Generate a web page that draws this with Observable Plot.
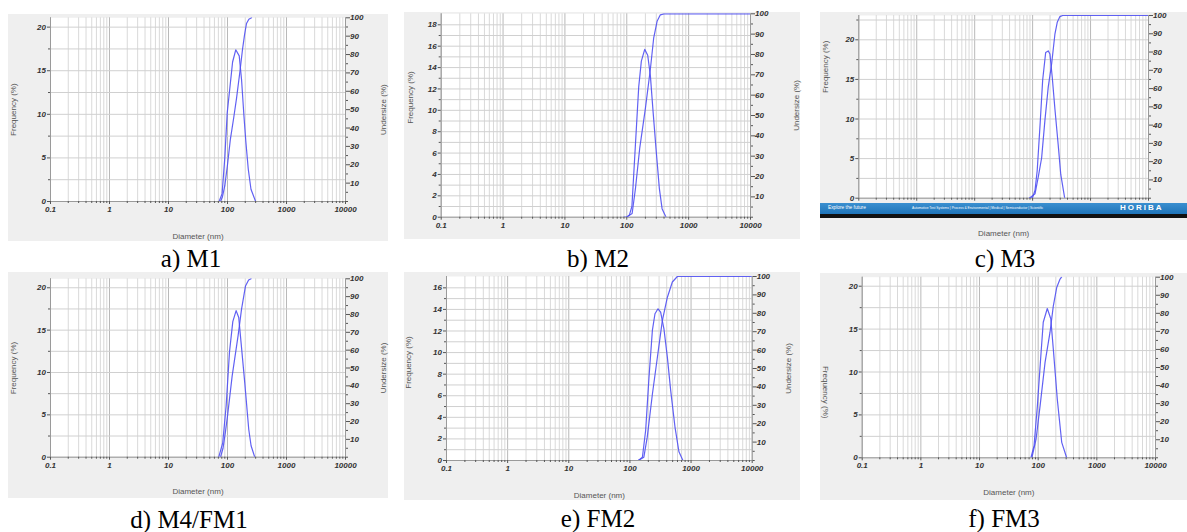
<!DOCTYPE html>
<html><head><meta charset="utf-8">
<script src="https://cdn.jsdelivr.net/npm/d3@7"></script>
<script src="https://cdn.jsdelivr.net/npm/@observablehq/plot@0.6"></script>
<style>
body{margin:0;width:1187px;height:532px;background:#fff;position:relative;overflow:hidden;font-family:"Liberation Sans",Arial,sans-serif}
.panel{position:absolute}
.cap{position:absolute;font-family:"Liberation Serif","Times New Roman",serif;font-size:25px;line-height:25px;color:#000;white-space:nowrap;transform:translateX(-50%)}
.bblue{position:absolute;left:820px;top:203px;width:367px;height:10.5px;background:linear-gradient(#3a8fd0,#1f74b8)}
.bblack{position:absolute;left:820px;top:213.5px;width:367px;height:4.5px;background:#111}
.btxt{position:absolute;color:#fff;white-space:nowrap;font-family:"Liberation Sans",Arial,sans-serif}
</style></head><body>
<script>
// ---------- shared axis data ----------
const xTickValues = [0.1, 1, 10, 100, 1000, 10000];
const xTickLabels = ["0.1", "1", "10", "100", "1000", "10000"];
const undersizeMajor = [10, 20, 30, 40, 50, 60, 70, 80, 90, 100];
const undersizeMinor = [0, 5, 15, 25, 35, 45, 55, 65, 75, 85, 95];
const freqTicks5 = [0, 5, 10, 15, 20];
const freqMinor5 = [2.5, 7.5, 12.5, 17.5, 22.5];
const freqTicks2b = [0, 2, 4, 6, 8, 10, 12, 14, 16, 18];
const freqTicks2e = [0, 2, 4, 6, 8, 10, 12, 14, 16];
const freqMinor1 = [1, 3, 5, 7, 9, 11, 13, 15, 17];
const captions = ["a) M1", "b) M2", "c) M3", "d) M4/FM1", "e) FM2", "f) FM3"];

// ---------- a) M1 ----------
const m1Diam = [72, 81, 90, 99, 122, 138, 158, 173, 190, 205, 225, 250, 300];
const m1Freq = [0, 0.9, 5.0, 10.2, 16.0, 17.4, 16.7, 14.0, 9.8, 6.8, 3.7, 1.4, 0];
const m1CumDiam = [76, 82, 90, 100, 112, 128, 142, 162, 180, 195, 210, 230, 256];
const m1Cum = [0, 2.5, 8.6, 20, 34, 46, 56, 70.5, 83, 91, 96.9, 99.2, 100];

// ---------- b) M2 ----------
const m2Diam = [90, 100, 110, 121, 138, 156, 172, 195, 218, 241, 266, 297, 336, 372, 431];
const m2Freq = [0, 0, 0.2, 1.0, 6.8, 12.2, 14.6, 15.7, 15.15, 13.2, 9.9, 6.4, 2.7, 0.8, 0];
const m2CumDiam = [99, 122, 138, 162, 200, 241, 272, 309, 349, 398, 10000];
const m2Cum = [0, 1.8, 14, 34, 53.5, 73, 88, 96.3, 99.5, 100, 100];

// ---------- c) M3 ----------
const m3Diam = [88, 100, 110, 120, 135, 149, 168, 186, 199, 218, 243, 275, 306, 358];
const m3Freq = [0, 0.1, 1.0, 3.5, 9.5, 14.9, 18.4, 18.6, 18.2, 15.3, 11.2, 6.9, 3.0, 0];
const m3CumDiam = [88, 110, 125, 143, 163, 186, 213, 243, 266, 296, 330, 10000];
const m3Cum = [0, 2.4, 11.5, 22, 42.6, 60.8, 73.6, 90, 96.3, 99.4, 100, 100];

// ---------- d) M4/FM1 ----------
const m4Diam = [71, 83, 95, 108, 123, 140, 155, 170, 196, 229, 251, 290];
const m4Freq = [0, 1.7, 6.1, 12.4, 16.0, 17.3, 16.5, 13.5, 8.8, 3.3, 1.35, 0];
const m4CumDiam = [76, 84, 92, 100, 120, 151, 173, 202, 228, 251];
const m4Cum = [0, 5, 13.9, 23, 45.6, 68, 83, 96, 99.3, 100];

// ---------- e) FM2 ----------
const fm2Diam = [137, 160, 181, 205, 233, 257, 288, 318, 360, 409, 464, 546, 634, 736];
const fm2Freq = [0, 0.3, 2.8, 7.7, 12.05, 13.6, 14.06, 13.75, 12.2, 9.6, 6.5, 3.1, 0.8, 0];
const fm2CumDiam = [137, 169, 192, 233, 281, 339, 409, 494, 597, 10000];
const fm2Cum = [0, 1.8, 12.7, 36, 56, 76, 88.6, 97, 100, 100];

// ---------- f) FM3 ----------
const fm3Diam = [75, 85, 97, 111, 122, 143, 164, 181, 212, 252, 306];
const fm3Freq = [0, 1.4, 6.1, 11.9, 15.8, 17.4, 16.2, 12.7, 6.8, 1.8, 0];
const fm3CumDiam = [78, 92, 108, 131, 159, 181, 207, 236, 250];
const fm3Cum = [0, 10.3, 29, 52.8, 69.4, 84, 94.3, 99, 100];

// ---------- layout (positions only) ----------
const panels = [
  {left: 8, top: 14, w: 380, h: 227, mL: 42, mR: 43, mT: 3.3, mB: 40, ymax: 21.07,
   diam: m1Diam, freq: m1Freq, cumDiam: m1CumDiam, cum: m1Cum, yMajor: freqTicks5, yMinor: freqMinor5.slice(0, 4),
   fDx: -36.7, fDy: 0, fRot: -90, uDx: 38, uDy: 0, dDy: 37, xLab: true, cx: 191, cy: 245.7},
  {left: 404, top: 12, w: 396, h: 227, mL: 36.7, mR: 50, mT: 1.3, mB: 22.3, ymax: 19.03,
   diam: m2Diam, freq: m2Freq, cumDiam: m2CumDiam, cum: m2Cum, yMajor: freqTicks2b, yMinor: freqMinor1,
   fDx: -30.7, fDy: -18, fRot: -90, uDx: 46, uDy: -10, dDy: null, xLab: true, cx: 598, cy: 245.7},
  {left: 820, top: 12, w: 367, h: 228, mL: 38.3, mR: 39, mT: 3, mB: 42.3, ymax: 23.07,
   diam: m3Diam, freq: m3Freq, cumDiam: m3CumDiam, cum: m3Cum, yMajor: freqTicks5, yMinor: freqMinor5,
   fDx: -33.3, fDy: -40, fRot: -90, uDx: null, uDy: 0, dDy: 37.3, xLab: false, cx: 1005, cy: 245.7},
  {left: 8, top: 272, w: 380, h: 226, mL: 42, mR: 43, mT: 6.3, mB: 41.3, ymax: 21.06,
   diam: m4Diam, freq: m4Freq, cumDiam: m4CumDiam, cum: m4Cum, yMajor: freqTicks5, yMinor: freqMinor5.slice(0, 4),
   fDx: -36.7, fDy: 0, fRot: -90, uDx: 38, uDy: 0, dDy: 36.6, xLab: true, cx: 189, cy: 506.5},
  {left: 404, top: 272, w: 396, h: 228, mL: 42, mR: 48.3, mT: 4, mB: 40, ymax: 17.05,
   diam: fm2Diam, freq: fm2Freq, cumDiam: fm2CumDiam, cum: fm2Cum, yMajor: freqTicks2e, yMinor: freqMinor1.slice(0, 8),
   fDx: -38, fDy: -6, fRot: -90, uDx: 36.3, uDy: 0, dDy: 37.3, xLab: true, cx: 598, cy: 506},
  {left: 820, top: 273, w: 367, h: 227, mL: 41.7, mR: 32, mT: 3.7, mB: 42.7, ymax: 21.05,
   diam: fm3Diam, freq: fm3Freq, cumDiam: fm3CumDiam, cum: fm3Cum, yMajor: freqTicks5, yMinor: freqMinor5.slice(0, 4),
   fDx: -36.7, fDy: 24.7, fRot: 90, uDx: null, uDy: 0, dDy: 37, xLab: true, cx: 1004, cy: 505.5}
];

const minorX = xTickValues.slice(0, -1).flatMap(d => [2, 3, 4, 5, 6, 7, 8, 9].map(k => +(k * d).toPrecision(6)));
const blue = "#5050f2";
const tickFont = {fontFamily: "Liberation Sans, Arial, sans-serif", fontSize: 8, fontWeight: "bold", fontStyle: "italic", fill: "#333", stroke: "#555"};
const titleFont = {fontFamily: "Liberation Sans, Arial, sans-serif", fontSize: 8, fill: "#555", textAnchor: "middle"};

function makePanel(p) {
  const ymax = p.ymax;
  const toY = u => u * ymax / 100;
  const freq = p.diam.map((d, i) => ({d, f: p.freq[i]}));
  const cum = p.cumDiam.map((d, i) => ({d, u: p.cum[i]}));
  const yGrid = [...p.yMajor, ...p.yMinor];
  const marks = [
    Plot.frame({fill: "white", stroke: null}),
    Plot.gridX({ticks: minorX, stroke: "#d9d9d9", strokeOpacity: 1}),
    Plot.gridX({ticks: xTickValues, stroke: "#b9b9b9", strokeOpacity: 1}),
    Plot.gridY({ticks: yGrid, stroke: "#d0d0d0", strokeOpacity: 1}),
    Plot.ruleY([0], {stroke: "#9a9a9a"}),
    Plot.ruleX([0.1], {stroke: "#9a9a9a"}),
    Plot.ruleX([10000], {stroke: "#9a9a9a"}),
    Plot.axisY({anchor: "left", ticks: p.yMajor, tickSize: 3, tickPadding: 1.5, label: null, ...tickFont}),
    Plot.axisY({anchor: "left", ticks: p.yMinor, tickSize: 2, tickFormat: () => "", label: null, stroke: "#555"}),
    Plot.axisY({anchor: "right", ticks: undersizeMajor.map(toY), tickSize: 4, tickPadding: 0.5, label: null,
      tickFormat: v => String(Math.round(v * 100 / ymax)), ...tickFont}),
    Plot.axisY({anchor: "right", ticks: undersizeMinor.map(toY), tickSize: 2, tickFormat: () => "", label: null, stroke: "#555"}),
    Plot.axisX({anchor: "bottom", ticks: xTickValues, tickSize: 3, tickPadding: 2, label: null,
      tickFormat: p.xLab ? (d => xTickLabels[xTickValues.indexOf(d)]) : (() => ""), ...tickFont}),
    Plot.axisX({anchor: "bottom", ticks: minorX, tickSize: 2, tickFormat: () => "", label: null, stroke: "#555"}),
    Plot.line(freq, {x: "d", y: "f", stroke: blue, strokeWidth: 1.2, strokeOpacity: 0.9, clip: true}),
    Plot.line(cum, {x: "d", y: d => toY(d.u), stroke: blue, strokeWidth: 1.2, strokeOpacity: 0.9, clip: true}),
    Plot.text(["Frequency (%)"], {text: d => d, frameAnchor: "left", rotate: p.fRot, dx: p.fDx, dy: p.fDy, ...titleFont})
  ];
  if (p.uDx != null) marks.push(Plot.text(["Undersize (%)"], {text: d => d, frameAnchor: "right", rotate: -90, dx: p.uDx, dy: p.uDy, ...titleFont}));
  if (p.dDy != null) marks.push(Plot.text(["Diameter (nm)"], {text: d => d, frameAnchor: "bottom", dy: p.dDy, ...titleFont}));
  return Plot.plot({
    width: p.w, height: p.h,
    marginLeft: p.mL, marginRight: p.mR, marginTop: p.mT, marginBottom: p.mB,
    style: {background: "#efefef", overflow: "visible", fontFamily: "Liberation Sans, Arial, sans-serif"},
    x: {type: "log", domain: [0.1, 10000], label: null},
    y: {domain: [0, ymax], label: null},
    marks
  });
}

panels.forEach((p, i) => {
  const div = document.createElement("div");
  div.className = "panel";
  div.style.left = p.left + "px";
  div.style.top = p.top + "px";
  div.style.width = p.w + "px";
  div.style.height = p.h + "px";
  div.appendChild(makePanel(p));
  document.body.appendChild(div);
  const cap = document.createElement("div");
  cap.className = "cap";
  cap.style.left = p.cx + "px";
  cap.style.top = p.cy + "px";
  cap.textContent = captions[i];
  document.body.appendChild(cap);
});

// HORIBA banner over panel c
["bblue", "bblack"].forEach(c => { const d = document.createElement("div"); d.className = c; document.body.appendChild(d); });
const bt = [
  {t: "Explore the future", l: 828, y: 205.5, s: 4.8, w: "normal", ls: 0},
  {t: "Automotive Test Systems  |  Process & Environmental  |  Medical  |  Semiconductor  |  Scientific", l: 912, y: 206.5, s: 3.3, w: "normal", ls: 0},
  {t: "HORIBA", l: 1120, y: 204, s: 8, w: "bold", ls: 2}
];
bt.forEach(o => {
  const d = document.createElement("div");
  d.className = "btxt";
  d.style.left = o.l + "px"; d.style.top = o.y + "px";
  d.style.fontSize = o.s + "px"; d.style.lineHeight = "1"; d.style.fontWeight = o.w; d.style.letterSpacing = o.ls + "px";
  d.textContent = o.t;
  document.body.appendChild(d);
});
</script>
</body></html>
